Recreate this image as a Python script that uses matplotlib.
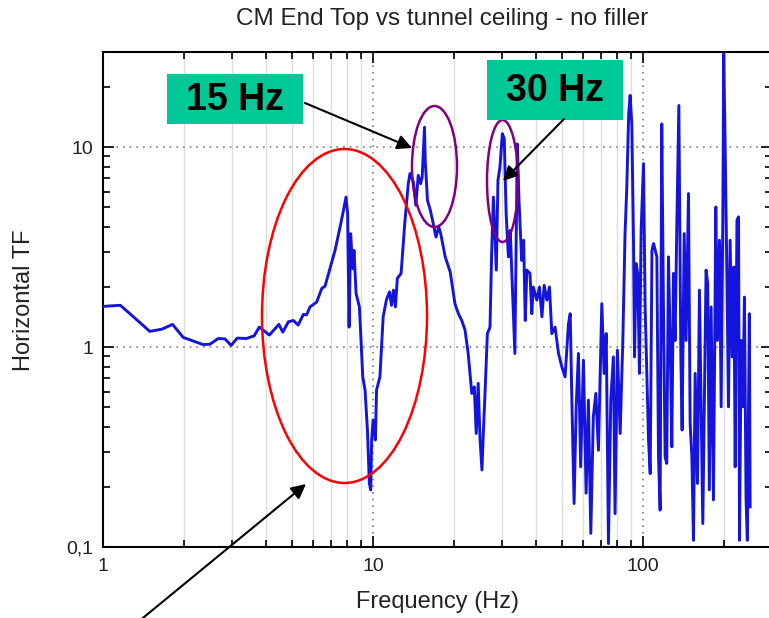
import matplotlib
matplotlib.use("Agg")
import matplotlib.pyplot as plt
from matplotlib.patches import Ellipse, Rectangle, FancyArrowPatch
from matplotlib.ticker import LogLocator, FixedLocator, FixedFormatter, NullFormatter

plt.rcParams['font.family'] = ['Liberation Sans', 'DejaVu Sans']

# valeurs (Hz, TF)
freq_hz = [
    1.00, 1.16, 1.49, 1.65, 1.81, 1.98, 2.13, 2.35, 2.49, 2.67, 2.83, 2.98, 3.14, 3.40, 3.63, 3.79,
    4.13, 4.48, 4.63, 4.86, 5.07, 5.28, 5.52, 5.67, 5.84, 6.18, 6.46, 6.64, 7.03, 7.23, 7.55, 7.77,
    7.94, 8.05, 8.15, 8.26, 8.41, 8.50, 8.65, 8.90, 9.16, 9.34, 9.53, 9.69, 9.80, 9.88, 10.0, 10.2,
    10.3, 10.6, 10.9, 11.2, 11.5, 11.7, 11.9, 12.1, 12.3, 12.7, 13.1, 13.5, 13.7, 14.1, 14.4, 14.7,
    15.0, 15.2, 15.5, 15.6, 15.9, 16.3, 16.6, 17.1, 17.5, 17.8, 18.5, 19.3, 20.1, 20.7, 21.3, 21.9,
    22.5, 23.2, 23.7, 24.1, 24.5, 24.9, 25.3, 25.6, 26.0, 26.5, 27.1, 27.5, 27.9, 28.6, 29.0, 29.5,
    30.1, 30.6, 31.1, 31.7, 32.2, 32.8, 33.5, 34.2, 34.7, 35.5, 36.1, 36.6, 37.1, 38.1, 38.7, 39.2,
    40.4, 41.3, 42.2, 43.0, 44.0, 45.0, 45.9, 47.2, 48.6, 50.0, 51.4, 52.9, 53.7, 54.4, 55.5, 56.5,
    57.6, 58.7, 60.1, 61.5, 62.7, 64.0, 65.4, 66.8, 68.3, 70.3, 71.7, 73.0, 74.4, 75.9, 77.6, 78.7,
    80.3, 82.2, 84.1, 85.7, 87.0, 88.4, 89.5, 90.8, 92.1, 92.9, 94.2, 95.5, 96.9, 98.3, 100.3, 101.7,
    104.7, 106.2, 107.8, 109.3, 112.4, 114.0, 115.6, 117.2, 118.9, 120.6, 122.3, 124.1, 125.9, 127.7,
    129.5, 131.3, 133.3, 135.6, 137.9, 139.4, 141.9, 144.2, 147.2, 149.3, 151.5, 153.6, 155.8, 158.9,
    161.6, 163.9, 166.3, 169.7, 171.0, 173.4, 175.8, 178.5, 182.1, 185.8, 188.4, 191.7, 194.5, 197.3,
    198.8, 201.4, 204.2, 207.0, 209.9, 213.6, 216.6, 219.2, 222.5, 225.6, 227.4, 230.6, 233.8, 237.2,
    240.5, 243.1, 247.3, 249.0,
]
horiz_tf = [
    1.60, 1.62, 1.20, 1.23, 1.30, 1.12, 1.08, 1.03, 1.035, 1.105, 1.10, 1.02, 1.11, 1.105, 1.14, 1.26,
    1.15, 1.30, 1.19, 1.34, 1.36, 1.29, 1.46, 1.45, 1.59, 1.68, 1.97, 2.02, 2.67, 3.05, 4.00, 4.84,
    5.64, 4.66, 1.26, 3.70, 2.47, 3.05, 1.86, 1.59, 0.71, 0.61, 0.385, 0.208, 0.193, 0.343, 0.432, 0.343,
    0.61, 0.71, 1.42, 1.72, 1.89, 1.62, 1.93, 1.59, 2.21, 2.34, 4.16, 6.58, 7.39, 6.71, 5.13, 7.24,
    6.58, 7.1, 12.6, 8.61, 5.43, 4.84, 4.32, 3.56, 4.0, 3.70, 2.83, 2.38, 1.65, 1.47, 1.36, 1.22,
    0.93, 0.587, 0.633, 0.37, 0.659, 0.343, 0.243, 0.37, 0.61, 1.17, 1.26, 3.05, 5.64, 2.43, 6.84, 7.97,
    11.7, 11.05, 4.66, 2.83, 3.84, 2.0, 0.93, 10.4, 5.43, 2.72, 3.43, 1.36, 2.43, 2.34, 1.47, 2.0,
    1.72, 2.0, 1.42, 2.04, 1.72, 2.0, 1.17, 1.26, 0.93, 0.797, 0.71, 1.31, 1.47, 0.587, 0.165, 0.503,
    0.93, 0.252, 0.86, 0.186, 0.543, 0.117, 0.448, 0.587, 0.305, 1.65, 0.739, 1.17, 0.104, 0.543, 0.894, 0.147,
    0.966, 0.37, 1.08, 3.70, 6.33, 14.7, 18.2, 13.1, 3.43, 0.894, 2.62, 2.34, 0.739, 3.84, 8.29, 1.59,
    0.343, 0.233, 3.05, 3.30, 2.83, 0.283, 0.153, 13.1, 1.59, 0.283, 0.262, 2.83, 1.08, 0.317,
    2.34, 1.08, 4.16, 16.2, 0.894, 0.385, 3.70, 1.08, 5.87, 0.415, 0.283, 0.108, 0.739, 0.208,
    1.93, 0.503, 0.131, 1.17, 2.43, 2.08, 0.193, 1.59, 0.172, 5.03, 1.08, 3.43, 0.503, 4.66,
    29.4, 9.30, 2.34, 0.503, 3.43, 0.894, 2.52, 0.252, 4.32, 4.49, 0.108, 1.08, 0.503, 1.78,
    0.172, 0.108, 1.47, 0.159,
]

y_ticks = [0.1, 1, 10]
y_tick_labels = ['0,1', '1', '10']
x_ticks = [1, 10, 100]
x_tick_labels = ['1', '10', '100']

W, H = 769, 618
fig = plt.figure(figsize=(W / 100, H / 100), dpi=100)
ax = fig.add_axes([103 / W, 1 - 547 / H, 669 / W, 495 / H])

ax.plot(freq_hz, horiz_tf, color='#1414dc', lw=2.1, zorder=3)
ax.set_xscale('log')
ax.set_yscale('log')
ax.set_xlim(1, 300)
ax.set_ylim(0.1, 30)

ax.xaxis.set_major_locator(FixedLocator(x_ticks))
ax.xaxis.set_major_formatter(FixedFormatter(x_tick_labels))
ax.yaxis.set_major_locator(FixedLocator(y_ticks))
ax.yaxis.set_major_formatter(FixedFormatter(y_tick_labels))
ax.xaxis.set_minor_locator(LogLocator(base=10, subs=range(2, 10)))
ax.yaxis.set_minor_locator(LogLocator(base=10, subs=range(2, 10)))
ax.xaxis.set_minor_formatter(NullFormatter())
ax.yaxis.set_minor_formatter(NullFormatter())

ax.tick_params(which='both', direction='in', top=True, right=True, width=1.2,
               labelsize=14, labelcolor='#222222')
ax.tick_params(which='major', length=8)
ax.tick_params(which='minor', length=5)
ax.tick_params(axis='x', pad=8)
ax.tick_params(axis='y', pad=7)

ax.grid(which='minor', axis='x', color='#dedede', lw=1.0, ls='-')
ax.grid(which='major', color='#808080', lw=1.2, ls=(0, (1, 3)))
ax.set_axisbelow(True)
for s in ax.spines.values():
    s.set_linewidth(1.5)


def px(x, y):
    return (x / W, 1 - y / H)


fig.text(*px(442, 19), 'CM End Top vs tunnel ceiling - no filler', fontsize=17.5,
         ha='center', va='center', color='#222222')
fig.text(*px(437, 602), 'Frequency (Hz)', fontsize=17, ha='center', va='center', color='#222222')
fig.text(*px(24, 300), 'Horizontal TF', fontsize=17, ha='center', va='center',
         rotation=90, color='#222222')

# ellipses
for cx, cy, w, h, col in [(344.5, 316, 165, 334, '#ff0000'),
                          (434.5, 166.5, 45, 121, '#800080'),
                          (502.5, 181, 31, 122, '#800080')]:
    fig.add_artist(Ellipse(px(cx, cy), w / W, h / H, transform=fig.transFigure,
                           fill=False, edgecolor=col, lw=1.8, zorder=5))

# boites vertes
for x0, y0, x1, y1, txt in [(167, 74, 303, 124, '15 Hz'), (487, 60, 623, 120, '30 Hz')]:
    fig.add_artist(Rectangle(px(x0, y1), (x1 - x0) / W, (y1 - y0) / H, transform=fig.transFigure,
                             facecolor='#00c997', edgecolor='none', zorder=6))
    fig.text(*px((x0 + x1) / 2, (y0 + y1) / 2 + 1), txt, fontsize=27, fontweight='bold',
             ha='center', va='center', color='black', zorder=7)

# fleches
for (xa, ya), (xb, yb) in [((305, 103), (412, 148)),
                           ((564, 119), (503, 181)),
                           ((138, 622), (306, 484))]:
    fig.add_artist(FancyArrowPatch(px(xa, ya), px(xb, yb), transform=fig.transFigure,
                                   arrowstyle='-|>', mutation_scale=22, lw=1.5,
                                   color='black', shrinkA=0, shrinkB=0, zorder=8))

fig.savefig('out.png', dpi=100)
